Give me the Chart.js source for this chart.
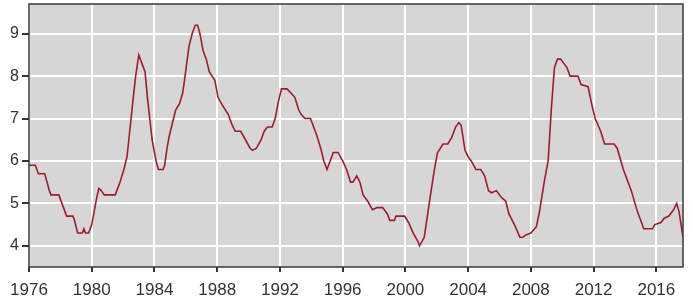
<!DOCTYPE html>
<html>
<head>
<meta charset="utf-8">
<script src="https://cdn.jsdelivr.net/npm/chart.js@4.4.0/dist/chart.umd.min.js"></script>
<style>
  html, body { margin: 0; padding: 0; background: #fff; }
  #wrap { width: 693px; height: 303px; }
</style>
</head>
<body>
<div id="wrap"><canvas id="rateChart" width="693" height="303"></canvas></div>
<script>
// values
var years = [
    1976.0, 1976.4, 1976.5, 1976.6, 1977.0, 1977.15, 1977.3, 1977.4, 1977.9, 1978.0,
    1978.2, 1978.4, 1978.8, 1978.9, 1979.1, 1979.4, 1979.5, 1979.6, 1979.8, 1980.0,
    1980.15, 1980.3, 1980.45, 1980.6, 1980.8, 1981.5, 1981.6, 1981.8, 1982.05, 1982.25,
    1982.45, 1982.65, 1982.8, 1983.0, 1983.2, 1983.4, 1983.55, 1983.7, 1983.85, 1984.1,
    1984.25, 1984.55, 1984.65, 1984.8, 1984.95, 1985.15, 1985.35, 1985.6, 1985.8, 1985.95,
    1986.2, 1986.4, 1986.6, 1986.75, 1986.9, 1987.1, 1987.3, 1987.5, 1987.85, 1988.05,
    1988.35, 1988.7, 1988.95, 1989.15, 1989.5, 1989.8, 1990.1, 1990.25, 1990.5, 1990.8,
    1991.0, 1991.2, 1991.5, 1991.7, 1991.9, 1992.1, 1992.45, 1992.7, 1992.95, 1993.2,
    1993.35, 1993.6, 1993.95, 1994.15, 1994.35, 1994.6, 1994.8, 1995.0, 1995.2, 1995.4,
    1995.7, 1996.0, 1996.25, 1996.5, 1996.65, 1996.9, 1997.1, 1997.3, 1997.6, 1997.9,
    1998.2, 1998.55, 1998.85, 1999.0, 1999.3, 1999.4, 1999.95, 2000.2, 2000.5, 2000.8,
    2000.9, 2001.2, 2001.4, 2001.6, 2001.85, 2002.05, 2002.4, 2002.7, 2002.95, 2003.2,
    2003.4, 2003.55, 2003.8, 2004.0, 2004.2, 2004.5, 2004.8, 2005.05, 2005.3, 2005.5,
    2005.8, 2006.1, 2006.4, 2006.6, 2006.95, 2007.3, 2007.5, 2007.65, 2008.0, 2008.35,
    2008.55, 2008.85, 2009.1, 2009.3, 2009.5, 2009.7, 2009.9, 2010.1, 2010.3, 2010.5,
    2011.0, 2011.2, 2011.65, 2011.9, 2012.1, 2012.45, 2012.7, 2013.3, 2013.5, 2013.9,
    2014.4, 2014.8, 2015.2, 2015.75, 2015.9, 2016.3, 2016.5, 2016.8, 2017.1, 2017.3,
    2017.45, 2017.7
];
var rates = [
    5.9, 5.9, 5.8, 5.7, 5.7, 5.5, 5.3, 5.2, 5.2, 5.1,
    4.9, 4.7, 4.7, 4.6, 4.3, 4.3, 4.4, 4.3, 4.3, 4.5,
    4.8, 5.1, 5.35, 5.3, 5.2, 5.2, 5.3, 5.5, 5.8, 6.1,
    6.8, 7.5, 8.0, 8.5, 8.3, 8.1, 7.5, 7.0, 6.5, 6.0,
    5.8, 5.8, 5.9, 6.3, 6.6, 6.9, 7.2, 7.35, 7.6, 8.0,
    8.7, 9.0, 9.2, 9.2, 9.0, 8.6, 8.4, 8.1, 7.9, 7.5,
    7.3, 7.1, 6.85, 6.7, 6.7, 6.5, 6.3, 6.25, 6.3, 6.5,
    6.7, 6.8, 6.8, 7.0, 7.4, 7.7, 7.7, 7.6, 7.5, 7.2,
    7.1, 7.0, 7.0, 6.8, 6.6, 6.3, 6.0, 5.8, 6.0, 6.2,
    6.2, 6.0, 5.8, 5.5, 5.5, 5.65, 5.5, 5.2, 5.05, 4.85,
    4.9, 4.9, 4.75, 4.6, 4.6, 4.7, 4.7, 4.55, 4.3, 4.1,
    4.0, 4.2, 4.7, 5.2, 5.8, 6.2, 6.4, 6.4, 6.55, 6.8,
    6.9, 6.85, 6.25, 6.1, 6.0, 5.8, 5.8, 5.65, 5.3, 5.25,
    5.3, 5.15, 5.05, 4.75, 4.5, 4.2, 4.2, 4.25, 4.3, 4.45,
    4.8, 5.5, 6.0, 7.2, 8.2, 8.4, 8.4, 8.3, 8.2, 8.0,
    8.0, 7.8, 7.75, 7.3, 7.0, 6.7, 6.4, 6.4, 6.3, 5.8,
    5.3, 4.8, 4.4, 4.4, 4.5, 4.55, 4.65, 4.7, 4.85, 5.0,
    4.8, 4.2
];
var xTicks = [1976, 1980, 1984, 1988, 1992, 1996, 2000, 2004, 2008, 2012, 2016];
var yTicks = [4, 5, 6, 7, 8, 9];

var points = years.map(function(y, i) { return { x: y, y: rates[i] }; });

// grey plot area + dark frame
var plotFrame = {
    id: 'plotFrame',
    beforeDraw: function(chart) {
        var a = chart.chartArea, c = chart.ctx;
        c.save();
        c.fillStyle = '#d6d6d6';
        c.fillRect(a.left, a.top, a.right - a.left, a.bottom - a.top);
        c.restore();
    },
    afterDraw: function(chart) {
        var a = chart.chartArea, c = chart.ctx;
        c.save();
        c.strokeStyle = '#3a3a3a';
        c.lineWidth = 1.5;
        c.strokeRect(a.left, a.top, a.right - a.left, a.bottom - a.top);
        c.restore();
    }
};

var ctx = document.getElementById('rateChart').getContext('2d');
var rateChart = new Chart(ctx, {
    type: 'line',
    data: {
        datasets: [{
            data: points,
            borderColor: '#a01b2d',
            borderWidth: 1.6,
            pointRadius: 0,
            tension: 0,
            fill: false
        }]
    },
    options: {
        responsive: false,
        animation: false,
        layout: { padding: { top: 4, right: 10, left: 0, bottom: 0 } },
        plugins: {
            legend: { display: false },
            tooltip: { enabled: false }
        },
        scales: {
            x: {
                type: 'linear',
                min: 1976,
                max: 2017.7,
                afterBuildTicks: function(scale) {
                    scale.ticks = xTicks.map(function(v) { return { value: v }; });
                },
                afterFit: function(scale) {
                    scale.height = 36;
                    scale.paddingLeft = 0;
                    scale.paddingRight = 0;
                },
                ticks: {
                    callback: function(v) { return String(v); },
                    color: '#333',
                    font: { family: 'Liberation Sans', size: 17 },
                    padding: 8,
                    maxRotation: 0,
                    autoSkip: false
                },
                grid: { color: '#ffffff', lineWidth: 2, tickColor: '#333', tickLength: 5 },
                border: { display: false }
            },
            y: {
                min: 3.5,
                max: 9.7,
                afterBuildTicks: function(scale) {
                    scale.ticks = yTicks.map(function(v) { return { value: v }; });
                },
                afterFit: function(scale) {
                    scale.width = 29;
                    scale.paddingTop = 0;
                    scale.paddingBottom = 0;
                },
                ticks: {
                    callback: function(v) { return String(v); },
                    color: '#333',
                    font: { family: 'Liberation Sans', size: 16 },
                    padding: 3
                },
                grid: { color: '#ffffff', lineWidth: 2, tickColor: '#333', tickLength: 7 },
                border: { display: false }
            }
        }
    },
    plugins: [plotFrame]
});
</script>
</body>
</html>
